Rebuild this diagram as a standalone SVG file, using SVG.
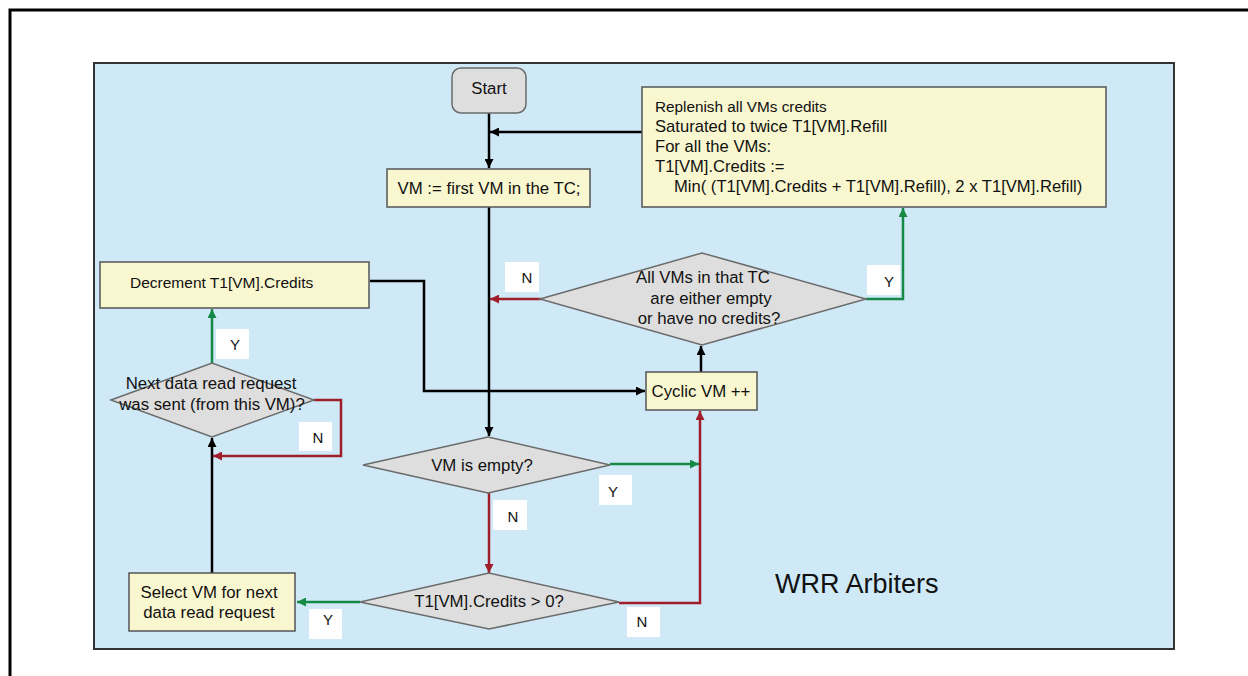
<svg xmlns="http://www.w3.org/2000/svg" width="1248" height="676" viewBox="0 0 1248 676">
<style>
text{font-family:"Liberation Sans",Arial,sans-serif;fill:#111;}
.t{font-size:16.8px;text-anchor:middle;}
.lb{font-size:15px;text-anchor:middle;}
.box{fill:#f9f7cf;stroke:#555;stroke-width:1.5;}
.dia{fill:#dedede;stroke:#6b6b6b;stroke-width:1.5;}
.lbl{fill:#fff;}
.k{fill:none;stroke:#000;stroke-width:2.5;}
.g{fill:none;stroke:#168a45;stroke-width:2.5;}
.r{fill:none;stroke:#a01e2a;stroke-width:2.5;}
</style>
<defs>
<marker id="mk" viewBox="0 0 10 10" refX="10" refY="5" markerWidth="10" markerHeight="9" markerUnits="userSpaceOnUse" orient="auto"><path d="M0,0L10,5L0,10z" fill="#000"/></marker>
<marker id="mg" viewBox="0 0 10 10" refX="10" refY="5" markerWidth="10" markerHeight="9" markerUnits="userSpaceOnUse" orient="auto"><path d="M0,0L10,5L0,10z" fill="#168a45"/></marker>
<marker id="mr" viewBox="0 0 10 10" refX="10" refY="5" markerWidth="10" markerHeight="9" markerUnits="userSpaceOnUse" orient="auto"><path d="M0,0L10,5L0,10z" fill="#a01e2a"/></marker>
</defs>
<rect x="0" y="0" width="1248" height="676" fill="#fff"/>
<path d="M10,690V10H1260" fill="none" stroke="#000" stroke-width="3"/>
<rect id="panel" x="94" y="63" width="1080" height="586" fill="#cfe9f7" stroke="#333" stroke-width="2"/>
<text x="775" y="593" style="font-size:27px">WRR Arbiters</text>

<g id="connectors">
<path class="k" d="M489,113V168" marker-end="url(#mk)"/>
<path class="k" d="M642,132H490" marker-end="url(#mk)"/>
<path class="k" d="M489,207V436" marker-end="url(#mk)"/>
<path class="g" d="M866,299H903V208" marker-end="url(#mg)"/>
<path class="r" d="M541,299H490" marker-end="url(#mr)"/>
<path class="k" d="M701,372V346" marker-end="url(#mk)"/>
<path class="k" d="M370,281H424V391H645" marker-end="url(#mk)"/>
<path class="g" d="M610,464H699" marker-end="url(#mg)"/>
<path class="r" d="M489,493V573" marker-end="url(#mr)"/>
<path class="r" d="M619,603H700V411" marker-end="url(#mr)"/>
<path class="g" d="M360,602H297" marker-end="url(#mg)"/>
<path class="k" d="M212,573V438" marker-end="url(#mk)"/>
<path class="g" d="M212,363V309" marker-end="url(#mg)"/>
<path class="r" d="M314,400H341V456H213" marker-end="url(#mr)"/>
</g>

<g id="start">
<rect x="452" y="68" width="74" height="45" rx="9" fill="#dedede" stroke="#6b6b6b" stroke-width="1.5"/>
<text class="t" x="489" y="94">Start</text>
</g>
<g id="vm-first">
<rect class="box" x="387" y="169" width="203" height="38"/>
<text class="t" x="489" y="194">VM := first VM in the TC;</text>
</g>
<g id="replenish">
<rect class="box" x="642" y="87" width="464" height="120"/>
<text x="655" y="112" style="font-size:15.3px">Replenish all VMs credits</text>
<text x="655" y="132" style="font-size:16.6px">Saturated to twice T1[VM].Refill</text>
<text x="655" y="152" style="font-size:16.6px">For all the VMs:</text>
<text x="655" y="172" style="font-size:16.6px">T1[VM].Credits :=</text>
<text x="674" y="192" style="font-size:16.6px">Min( (T1[VM].Credits + T1[VM].Refill), 2 x T1[VM].Refill)</text>
</g>
<g id="all-vms">
<polygon class="dia" points="540,299 702,253 866,299 702,345"/>
<text class="t" x="703" y="283">All VMs in that TC</text>
<text class="t" x="711" y="304">are either empty</text>
<text class="t" x="709" y="324">or have no credits?</text>
</g>
<g id="cyclic">
<rect class="box" x="646" y="372" width="111" height="38"/>
<text class="t" x="701" y="397">Cyclic VM ++</text>
</g>
<g id="decrement">
<rect class="box" x="100" y="262" width="269" height="46"/>
<text x="130" y="288" style="font-size:15.5px">Decrement T1[VM].Credits</text>
</g>
<g id="next-read">
<polygon class="dia" points="111,400 212,363 314,400 212,437"/>
<text class="t" x="211" y="389">Next data read request</text>
<text class="t" x="212" y="410">was sent (from this VM)?</text>
</g>
<g id="vm-empty">
<polygon class="dia" points="363,465 488,437 610,465 488,493"/>
<text class="t" x="482" y="471">VM is empty?</text>
</g>
<g id="credits">
<polygon class="dia" points="360,602 489,573 619,602 489,629"/>
<text class="t" x="489" y="607">T1[VM].Credits &gt; 0?</text>
</g>
<g id="select">
<rect class="box" x="129" y="573" width="166" height="58"/>
<text class="t" x="209" y="598">Select VM for next</text>
<text class="t" x="209" y="618">data read request</text>
</g>

<g id="labels">
<rect class="lbl" x="505" y="262" width="34" height="30"/><text class="lb" x="527" y="283">N</text>
<rect class="lbl" x="867" y="265" width="33" height="30"/><text class="lb" x="889" y="287">Y</text>
<rect class="lbl" x="599" y="475" width="33" height="30"/><text class="lb" x="613" y="497">Y</text>
<rect class="lbl" x="493" y="500" width="34" height="30"/><text class="lb" x="513" y="522">N</text>
<rect class="lbl" x="627" y="607" width="33" height="30"/><text class="lb" x="642" y="627">N</text>
<rect class="lbl" x="309" y="609" width="33" height="30"/><text class="lb" x="328" y="625">Y</text>
<rect class="lbl" x="216" y="329" width="33" height="30"/><text class="lb" x="235" y="350">Y</text>
<rect class="lbl" x="299" y="422" width="33" height="29"/><text class="lb" x="318" y="443">N</text>
</g>
</svg>
